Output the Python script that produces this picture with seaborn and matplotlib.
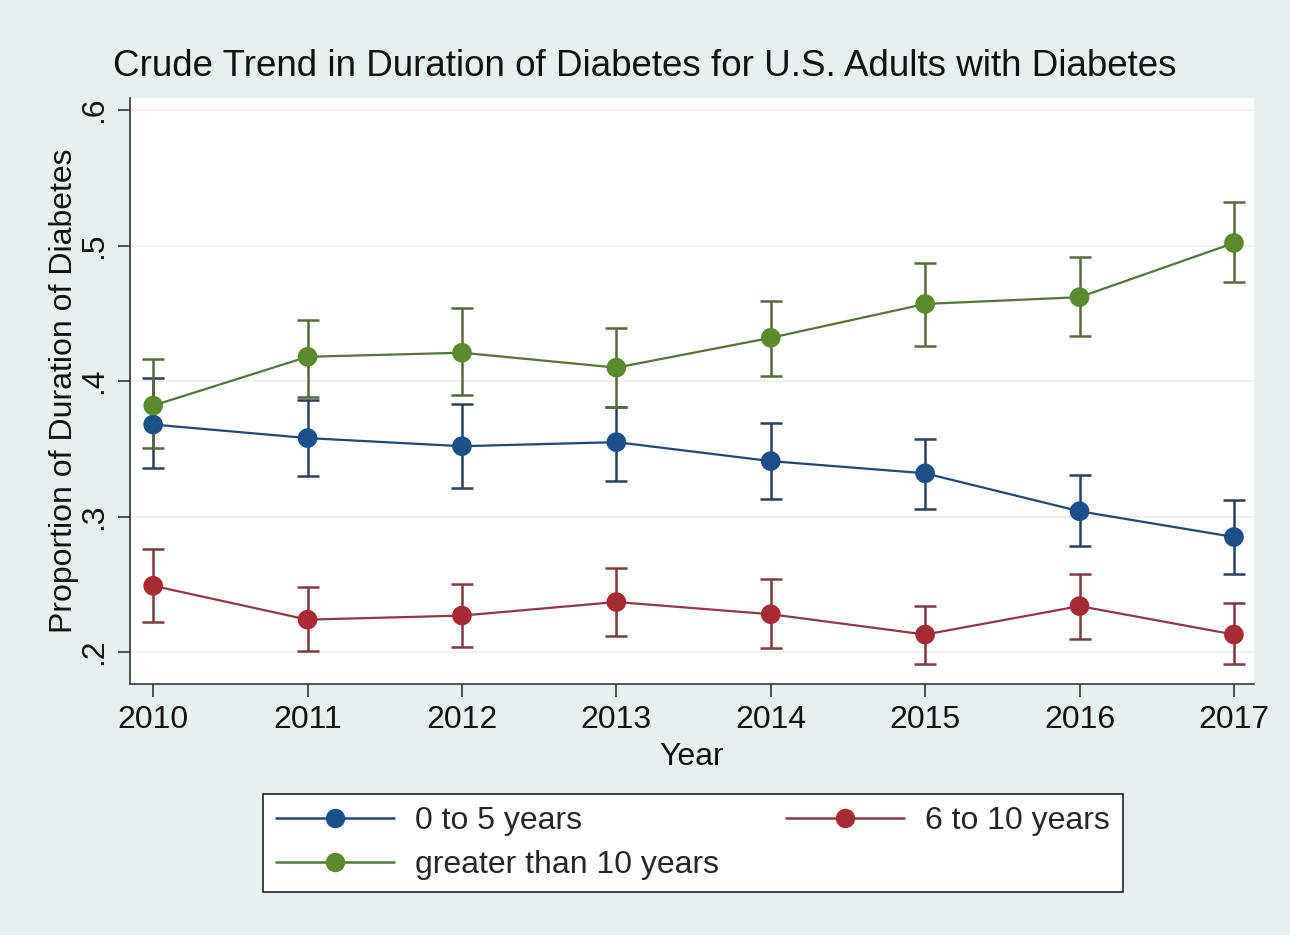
import numpy as np
import pandas as pd
import matplotlib
matplotlib.use("Agg")
import matplotlib.pyplot as plt
import seaborn as sns
from matplotlib.lines import Line2D

years = [2010, 2011, 2012, 2013, 2014, 2015, 2016, 2017]

# Proportion of adults with diabetes by duration group, with 95% CI bounds
dur_0_5 = [0.368, 0.358, 0.352, 0.355, 0.341, 0.332, 0.304, 0.285]
dur_0_5_lo = [0.336, 0.330, 0.321, 0.326, 0.313, 0.306, 0.278, 0.258]
dur_0_5_hi = [0.402, 0.386, 0.383, 0.381, 0.369, 0.357, 0.331, 0.312]

dur_6_10 = [0.249, 0.224, 0.227, 0.237, 0.228, 0.213, 0.234, 0.213]
dur_6_10_lo = [0.222, 0.201, 0.204, 0.212, 0.203, 0.191, 0.210, 0.191]
dur_6_10_hi = [0.276, 0.248, 0.250, 0.262, 0.254, 0.234, 0.258, 0.236]

dur_10plus = [0.382, 0.418, 0.421, 0.410, 0.432, 0.457, 0.462, 0.502]
dur_10plus_lo = [0.351, 0.388, 0.390, 0.381, 0.404, 0.426, 0.433, 0.473]
dur_10plus_hi = [0.416, 0.445, 0.454, 0.439, 0.459, 0.487, 0.492, 0.532]

groups = ["0 to 5 years", "6 to 10 years", "greater than 10 years"]
colors = {"0 to 5 years": "#1c4f8a",
          "6 to 10 years": "#a82a35",
          "greater than 10 years": "#5a8a2c"}
bar_colors = {"0 to 5 years": "#2a3f5a",
              "6 to 10 years": "#7a3a40",
              "greater than 10 years": "#56683c"}
line_colors = {"0 to 5 years": "#24476f",
               "6 to 10 years": "#8a3a42",
               "greater than 10 years": "#55743a"}

frames = []
for g, est, lo, hi in [(groups[0], dur_0_5, dur_0_5_lo, dur_0_5_hi),
                       (groups[1], dur_6_10, dur_6_10_lo, dur_6_10_hi),
                       (groups[2], dur_10plus, dur_10plus_lo, dur_10plus_hi)]:
    frames.append(pd.DataFrame({"Year": years, "prop": est, "lo": lo,
                                "hi": hi, "group": g}))
df = pd.concat(frames, ignore_index=True)

sns.set_theme(style="white")
plt.rcParams["font.family"] = ["Liberation Sans", "DejaVu Sans"]

bg = "#e8eff1"
fig = plt.figure(figsize=(12.9, 9.35), dpi=100, facecolor=bg)
ax = fig.add_axes([130 / 1290, 1 - 684 / 935, (1254 - 130) / 1290, (684 - 98) / 935])
ax.set_facecolor("white")

# Confidence interval caps
for g in groups:
    d = df[df["group"] == g]
    ax.errorbar(d["Year"], d["prop"],
                yerr=[d["prop"] - d["lo"], d["hi"] - d["prop"]],
                fmt="none", ecolor=bar_colors[g], elinewidth=1.8,
                capsize=8, capthick=1.8, zorder=2)

# Connecting lines, then the point markers on top
sns.lineplot(data=df, x="Year", y="prop", hue="group", hue_order=groups,
             palette=line_colors, linewidth=1.6, ax=ax, legend=False, zorder=3)
sns.scatterplot(data=df, x="Year", y="prop", hue="group", hue_order=groups,
                palette=colors, s=200, linewidth=0, ax=ax, legend=False,
                zorder=4)

ax.set_xlim(2009.85, 2017.13)
ax.set_ylim(0.1765, 0.609)
ax.set_xticks(years)
ax.set_xticklabels([str(y) for y in years])
yt = [0.2, 0.3, 0.4, 0.5, 0.6]
ax.set_yticks(yt)
ax.set_yticklabels([".2", ".3", ".4", ".5", ".6"], rotation=90, va="center")
ax.grid(axis="y", color="#eef2f3", linewidth=1.5)
ax.grid(axis="x", visible=False)

for s in ["top", "right"]:
    ax.spines[s].set_visible(False)
for s in ["left", "bottom"]:
    ax.spines[s].set_color("#333333")
    ax.spines[s].set_linewidth(1.2)
ax.tick_params(axis="both", which="major", direction="out", length=9,
               width=1.2, color="#333333", labelsize=23, labelcolor="#111111",
               left=True, bottom=True, pad=6)

ax.set_xlabel("Year", fontsize=23, color="#111111", labelpad=5)
ax.set_ylabel("Proportion of Duration of Diabetes", fontsize=23,
              color="#111111", labelpad=0)
fig.text(0.5, 1 - 66 / 935, "Crude Trend in Duration of Diabetes for U.S. Adults with Diabetes",
         ha="center", va="center", fontsize=26.5, color="#111111")

# Legend box
handles = [Line2D([], [], color=line_colors[g], marker="o", markersize=14,
                  markerfacecolor=colors[g], markeredgewidth=0, linewidth=1.8)
           for g in groups]
order = [0, 2, 1]
leg = fig.legend([handles[i] for i in order], [groups[i] for i in order],
                 ncol=2, loc="center",
                 bbox_to_anchor=(693 / 1290, 1 - 843 / 935),
                 fontsize=23, frameon=True, fancybox=False,
                 handlelength=3.7, handletextpad=0.65, borderpad=0.4,
                 labelspacing=0.42, columnspacing=2.1, borderaxespad=0)
leg.get_frame().set_edgecolor("#222222")
leg.get_frame().set_linewidth(1.2)
leg.get_frame().set_facecolor("white")
leg.get_frame().set_alpha(1)

fig.savefig("out.png", dpi=100, facecolor=bg)
